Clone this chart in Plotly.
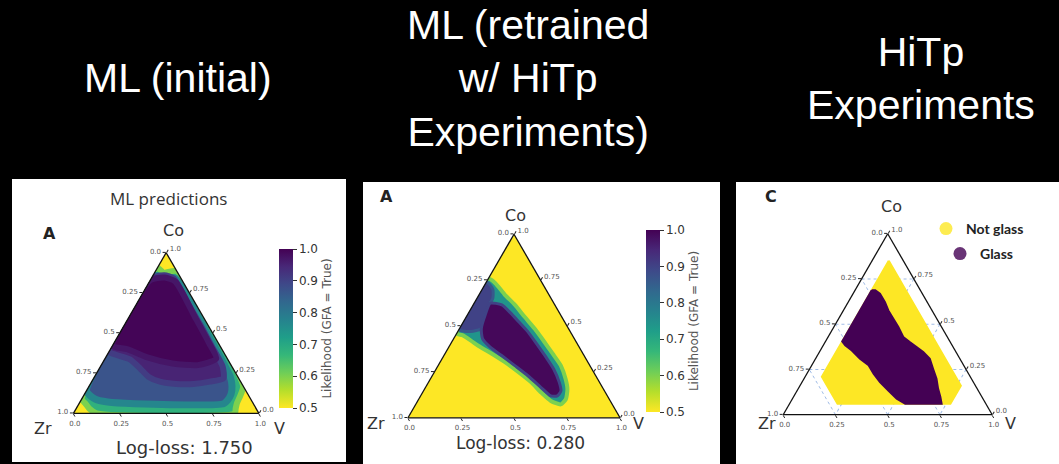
import plotly.graph_objects as go
from plotly.colors import sample_colorscale

W, H = 1059, 464

# ---------------- text ----------------
title_1 = "ML (initial)"
title_2 = "ML (retrained<br>w/ HiTp<br>Experiments)"
title_3 = "HiTp<br>Experiments"
panel1_heading = "ML predictions"
loss_1 = "Log-loss: 1.750"
loss_2 = "Log-loss: 0.280"
cbar_title = "Likelihood (GFA = True)"
legend_names = ["Not glass", "Glass"]

# ---------------- axes ----------------
cbar_ticks = [0.5, 0.6, 0.7, 0.8, 0.9, 1.0]
tern_tickvals = [0.0, 0.25, 0.5, 0.75, 1.0]
tern_ticktext = ["1.0", "0.75", "0.5", "0.25", "0.0"]

# ---------------- panel 1 (ML initial): likelihood regions, (Co, V) vertices ----------------
p1_levels = [0.5, 0.68, 0.87, 0.95, 0.995]
p1_base_co = [1.0, 0.0, 0.0]
p1_base_v = [0.0, 0.0, 1.0]
p1_green_co = [0.09, 0.905, 0.875, 0.885, 0.17, 0.11, 0.065, 0.03, 0.0, 0.0, 0.03, 0.06]
p1_green_v = [0.0, 0.0, 0.05, 0.115, 0.83, 0.845, 0.85, 0.86, 0.87, 0.125, 0.07, 0.035]
p1_blue_co = [0.14, 0.855, 0.85, 0.84, 0.5, 0.3, 0.23, 0.17, 0.12, 0.08, 0.06, 0.06, 0.07, 0.09]
p1_blue_v = [0.0, 0.0, 0.06, 0.13, 0.47, 0.665, 0.73, 0.77, 0.79, 0.79, 0.78, 0.3, 0.15, 0.07]
p1_purple_co = [0.84, 0.86, 0.84, 0.70, 0.55, 0.415, 0.29, 0.218, 0.197, 0.183, 0.183, 0.197,
                0.228, 0.28, 0.336, 0.363, 0.384]
p1_purple_v = [0.0, 0.06, 0.12, 0.26, 0.41, 0.54, 0.66, 0.70, 0.637, 0.555, 0.465, 0.368,
               0.29, 0.219, 0.137, 0.052, 0.0]
p1_dark_co = [0.83, 0.845, 0.82, 0.60, 0.44, 0.34, 0.30, 0.31, 0.35, 0.40, 0.42]
p1_dark_v = [0.0, 0.07, 0.14, 0.355, 0.51, 0.60, 0.52, 0.38, 0.22, 0.09, 0.0]

# ---------------- panel 2 (ML retrained) ----------------
p2_levels = [0.5, 0.74, 0.9, 0.99]
p2_base_co = [1.0, 0.0, 0.0]
p2_base_v = [0.0, 0.0, 1.0]
p2_halo_co = [0.758, 0.734, 0.670, 0.615, 0.550, 0.486, 0.413, 0.349, 0.284, 0.211, 0.156,
              0.101, 0.073, 0.092, 0.138, 0.193, 0.251, 0.303, 0.349, 0.391, 0.422, 0.450, 0.459]
p2_halo_v = [0.0, 0.044, 0.122, 0.197, 0.275, 0.354, 0.437, 0.508, 0.579, 0.638, 0.674,
             0.694, 0.684, 0.628, 0.559, 0.485, 0.393, 0.306, 0.221, 0.138, 0.084, 0.031, 0.0]
p2_edge_co = [0.74, 0.70, 0.65, 0.624, 0.56, 0.486, 0.47, 0.48]
p2_edge_v = [0.0, 0.05, 0.075, 0.076, 0.084, 0.103, 0.06, 0.0]
p2_core_co = [0.624, 0.615, 0.574, 0.523, 0.468, 0.394, 0.330, 0.266, 0.193, 0.147, 0.119,
              0.119, 0.165, 0.229, 0.284, 0.339, 0.385, 0.431, 0.486, 0.560]
p2_core_v = [0.076, 0.135, 0.194, 0.261, 0.332, 0.415, 0.486, 0.554, 0.617, 0.648, 0.645,
             0.614, 0.545, 0.451, 0.362, 0.272, 0.195, 0.136, 0.103, 0.084]

# ---------------- panel 3 (HiTp experiments) ----------------
p3_notglass_co = [0.85, 0.16, 0.06, 0.06, 0.21]
p3_notglass_v = [0.08, 0.77, 0.77, 0.23, 0.08]
p3_glass_co = [0.687, 0.687, 0.668, 0.622, 0.576, 0.530, 0.484, 0.429, 0.401, 0.374, 0.346,
               0.309, 0.254, 0.199, 0.144, 0.098, 0.06, 0.06, 0.088, 0.134, 0.180, 0.227,
               0.273, 0.309, 0.355, 0.383, 0.405]
p3_glass_v = [0.08, 0.097, 0.129, 0.176, 0.215, 0.262, 0.309, 0.360, 0.405, 0.451, 0.497,
              0.547, 0.590, 0.634, 0.669, 0.703, 0.728, 0.554, 0.499, 0.436, 0.373, 0.319,
              0.272, 0.213, 0.151, 0.105, 0.08]

CMIN, CMAX = 0.5, 1.0


def level_color(v):
    t = (v - CMIN) / (CMAX - CMIN)
    return sample_colorscale("Viridis", [1 - t])[0]


def px(x):
    return x / W


def py(y):
    return 1 - y / H


fig = go.Figure()


def add_region(co, v, value, subplot, caxis, stroke_value=None, stroke_w=0):
    a = list(co) + [co[0]]
    c = list(v) + [v[0]]
    b = [1 - p - q for p, q in zip(a, c)]
    fill = level_color(value)
    line_col = level_color(stroke_value) if stroke_value is not None else fill
    fig.add_trace(go.Scatterternary(
        a=a, b=b, c=c, subplot=subplot, mode="lines+markers", fill="toself",
        fillcolor=fill,
        line=dict(color=line_col, width=stroke_w, shape="spline", smoothing=0.6),
        marker=dict(size=1, opacity=0, color=[value] * len(a), coloraxis=caxis),
        hoverinfo="skip", showlegend=False))


# panel 1
add_region(p1_base_co, p1_base_v, p1_levels[0], "ternary", "coloraxis")
add_region(p1_green_co, p1_green_v, p1_levels[1], "ternary", "coloraxis", 0.6, 6)
add_region(p1_blue_co, p1_blue_v, p1_levels[2], "ternary", "coloraxis", 0.77, 7)
add_region(p1_purple_co, p1_purple_v, p1_levels[3], "ternary", "coloraxis", 0.91, 6)
add_region(p1_dark_co, p1_dark_v, p1_levels[4], "ternary", "coloraxis", 0.97, 6)

# panel 2
add_region(p2_base_co, p2_base_v, p2_levels[0], "ternary2", "coloraxis2")
add_region(p2_halo_co, p2_halo_v, p2_levels[1], "ternary2", "coloraxis2", 0.6, 4)
add_region(p2_edge_co, p2_edge_v, p2_levels[2], "ternary2", "coloraxis2", 0.86, 3)
add_region(p2_core_co, p2_core_v, p2_levels[3], "ternary2", "coloraxis2", 0.9, 3)

# panel 3
yellow = level_color(0.5)
purple = level_color(1.0)
for co, v, col in [(p3_notglass_co, p3_notglass_v, yellow), (p3_glass_co, p3_glass_v, purple)]:
    a = list(co) + [co[0]]
    c = list(v) + [v[0]]
    b = [1 - p - q for p, q in zip(a, c)]
    fig.add_trace(go.Scatterternary(a=a, b=b, c=c, subplot="ternary3", mode="lines",
                                    fill="toself", fillcolor=col,
                                    line=dict(color=col, width=2),
                                    hoverinfo="skip", showlegend=False))
for name, col, leg in [(legend_names[0], yellow, "legend"), (legend_names[1], purple, "legend2")]:
    fig.add_trace(go.Scatterternary(a=[None], b=[None], c=[None], subplot="ternary3",
                                    mode="markers", name=name, legend=leg,
                                    marker=dict(size=13, color=col, opacity=0.8)))


def tern_axis(gridcolor, griddash, layer):
    return dict(
        min=0, tickmode="array", tickvals=tern_tickvals, ticktext=tern_ticktext,
        ticks="outside", ticklen=3, tickcolor="#222", tickwidth=1,
        tickfont=dict(size=7, color="#555", family="DejaVu Sans"),
        showline=True, linecolor="#111", linewidth=1.3,
        showgrid=True, gridcolor=gridcolor, gridwidth=0.8, griddash=griddash,
        layer=layer, title=dict(text=""))


def tern(x0, x1, y0, y1, gridcolor, griddash, layer):
    ax = tern_axis(gridcolor, griddash, layer)
    return dict(domain=dict(x=[px(x0), px(x1)], y=[py(y1), py(y0)]), sum=1,
                bgcolor="white", aaxis=ax, baxis=ax, caxis=ax)


def cbar(x, ytop, ybot):
    return dict(
        colorscale="Viridis", reversescale=True, cmin=CMIN, cmax=CMAX,
        colorbar=dict(
            x=px(x), xanchor="left", xpad=0, y=py(ybot), yanchor="bottom", ypad=0,
            lenmode="pixels", len=ybot - ytop, thicknessmode="pixels", thickness=14,
            outlinewidth=0, tickvals=cbar_ticks, tickformat=".1f",
            ticks="outside", ticklen=4, tickcolor="#333",
            tickfont=dict(size=12, color="#333", family="DejaVu Sans"),
            title=dict(text=cbar_title, side="right",
                       font=dict(size=12, color="#555", family="DejaVu Sans"))))


shapes = []
for (x0, y0, x1, y1) in [(12, 179, 346, 462), (363, 182, 720, 464), (736, 182, 1059, 464)]:
    shapes.append(dict(type="rect", xref="paper", yref="paper", x0=px(x0), x1=px(x1),
                       y0=py(y1), y1=py(y0), fillcolor="white", line=dict(width=0),
                       layer="below"))

ann = []


def add_text(text, x, y, size, color="#333", family="DejaVu Sans"):
    ann.append(dict(text=text, x=px(x), y=py(y), xref="paper", yref="paper",
                    xanchor="center", yanchor="middle", showarrow=False,
                    font=dict(size=size, color=color, family=family)))


add_text(title_1, 178, 78, 41, "white", "Liberation Sans, Arial")
add_text(title_2, 528, 78, 41, "white", "Liberation Sans, Arial")
add_text(title_3, 921, 78, 41, "white", "Liberation Sans, Arial")
add_text(panel1_heading, 168, 198, 17, "#333", "Open Sans")
add_text("<b>A</b>", 49, 233, 16, "#222", "DejaVu Sans")
add_text("<b>A</b>", 386, 197, 16, "#222", "DejaVu Sans")
add_text("<b>C</b>", 771, 196, 16, "#222", "DejaVu Sans")
for (cx, cy), (zx, zy), (vx, vy) in [((173, 230), (43, 428), (279, 428)),
                                     ((515, 215), (376, 423), (638, 423)),
                                     ((891, 206), (767, 423), (1010, 423))]:
    add_text("Co", cx, cy, 16)
    add_text("Zr", zx, zy, 16)
    add_text("V", vx, vy, 16)
add_text(loss_1, 184, 447, 18)
add_text(loss_2, 520, 443, 17)

fig.update_layout(
    width=W, height=H, autosize=False,
    margin=dict(l=0, r=0, t=0, b=0, pad=0),
    paper_bgcolor="black", plot_bgcolor="black",
    ternary=tern(73.3, 259, 252.7, 413.3, "rgba(120,120,120,0.25)", "solid", "above traces"),
    ternary2=tern(408, 620, 234.2, 417.8, "rgba(110,110,110,0.45)", "solid", "above traces"),
    ternary3=tern(782.7, 992.7, 233.7, 414.7, "rgba(120,160,220,0.7)", "dot", "below traces"),
    coloraxis=cbar(279, 249, 408),
    coloraxis2=cbar(646, 230, 412),
    shapes=shapes, annotations=ann,
    legend=dict(x=px(926), y=py(229), xanchor="left", yanchor="middle",
                bgcolor="rgba(0,0,0,0)", borderwidth=0,
                font=dict(size=14, color="#222", family="Lato", weight="bold")),
    legend2=dict(x=px(940), y=py(254), xanchor="left", yanchor="middle",
                 bgcolor="rgba(0,0,0,0)", borderwidth=0,
                 font=dict(size=14, color="#222", family="Lato", weight="bold")),
)

fig.write_html("out.html")
